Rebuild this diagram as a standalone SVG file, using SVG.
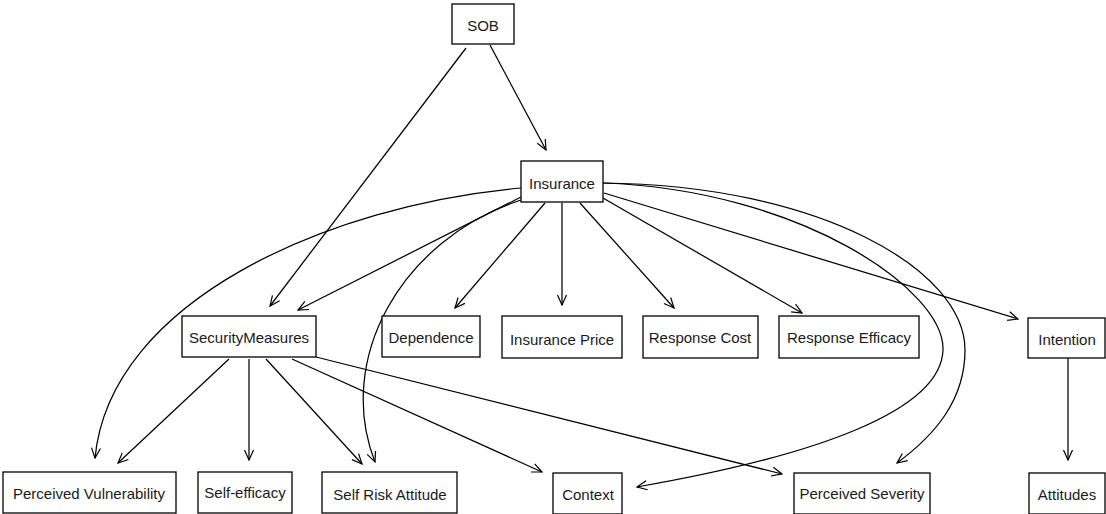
<svg xmlns="http://www.w3.org/2000/svg" width="1106" height="514" viewBox="0 0 1106 514">
<style>
.box{fill:#fff;stroke:#000;stroke-width:1.3}
.lbl{font-family:"Liberation Sans",Arial,sans-serif;font-size:15px;fill:#1a1a1a;text-anchor:middle;dominant-baseline:central}
.e{fill:none;stroke:#000;stroke-width:1.25;marker-end:url(#arr)}
</style>
<defs>
<marker id="arr" viewBox="-11 -6 12 12" refX="0" refY="0" markerWidth="12" markerHeight="12" markerUnits="userSpaceOnUse" orient="auto">
<path d="M-10,-4.5 L0,0 L-10,4.5" fill="none" stroke="#000" stroke-width="1.2"/>
</marker>
</defs>
<rect width="1106" height="514" fill="#fff"/>
<g id="connectors">
<line class="e" x1="490" y1="45" x2="546" y2="150"/>
<line class="e" x1="466" y1="48" x2="270" y2="306"/>
<line class="e" x1="521" y1="197" x2="298" y2="310"/>
<line class="e" x1="545" y1="203" x2="455" y2="308"/>
<line class="e" x1="562" y1="203" x2="562" y2="305"/>
<line class="e" x1="580" y1="203" x2="674" y2="308"/>
<line class="e" x1="603" y1="198" x2="802" y2="313"/>
<line class="e" x1="604" y1="193" x2="1018" y2="319"/>
<path class="e" d="M521,188 C330,205 110,300 95,458"/>
<path class="e" d="M521,200 C400,240 335,360 375,462"/>
<path class="e" d="M603,183 C800,190 945,290 943,350 C941,410 820,455 637,487"/>
<path class="e" d="M603,183 C820,185 965,270 965,350 C965,400 935,435 897,463"/>
<line class="e" x1="229" y1="359" x2="118" y2="463"/>
<line class="e" x1="249" y1="359" x2="249" y2="460"/>
<line class="e" x1="266" y1="359" x2="362" y2="464"/>
<line class="e" x1="292" y1="359" x2="542" y2="472"/>
<line class="e" x1="316" y1="357" x2="782" y2="474"/>
<line class="e" x1="1068" y1="358" x2="1068" y2="460"/>
</g>
<g id="SOB"><rect class="box" x="452" y="4" width="62" height="40"/><text class="lbl" x="483" y="25">SOB</text></g>
<g id="Insurance"><rect class="box" x="521" y="161" width="82" height="41"/><text class="lbl" x="562" y="183">Insurance</text></g>
<g id="SecurityMeasures"><rect class="box" x="182" y="316" width="134" height="41"/><text class="lbl" x="249" y="337">SecurityMeasures</text></g>
<g id="Dependence"><rect class="box" x="382" y="316" width="98" height="41"/><text class="lbl" x="431" y="337">Dependence</text></g>
<g id="InsurancePrice"><rect class="box" x="502" y="316" width="120" height="42"/><text class="lbl" x="562" y="339">Insurance Price</text></g>
<g id="ResponseCost"><rect class="box" x="643" y="316" width="115" height="42"/><text class="lbl" x="700" y="337">Response Cost</text></g>
<g id="ResponseEfficacy"><rect class="box" x="779" y="316" width="140" height="42"/><text class="lbl" x="849" y="337">Response Efficacy</text></g>
<g id="Intention"><rect class="box" x="1028" y="318" width="77" height="40"/><text class="lbl" x="1067" y="339">Intention</text></g>
<g id="PerceivedVulnerability"><rect class="box" x="3" y="472" width="173" height="41"/><text class="lbl" x="89" y="493">Perceived Vulnerability</text></g>
<g id="SelfEfficacy"><rect class="box" x="198" y="472" width="94" height="41"/><text class="lbl" x="245" y="492">Self-efficacy</text></g>
<g id="SelfRiskAttitude"><rect class="box" x="322" y="472" width="135" height="41"/><text class="lbl" x="390" y="494">Self Risk Attitude</text></g>
<g id="Context"><rect class="box" x="553" y="473" width="69" height="41"/><text class="lbl" x="588" y="494">Context</text></g>
<g id="PerceivedSeverity"><rect class="box" x="794" y="473" width="136" height="41"/><text class="lbl" x="862" y="493">Perceived Severity</text></g>
<g id="Attitudes"><rect class="box" x="1029" y="473" width="76" height="41"/><text class="lbl" x="1067" y="494">Attitudes</text></g>
</svg>
